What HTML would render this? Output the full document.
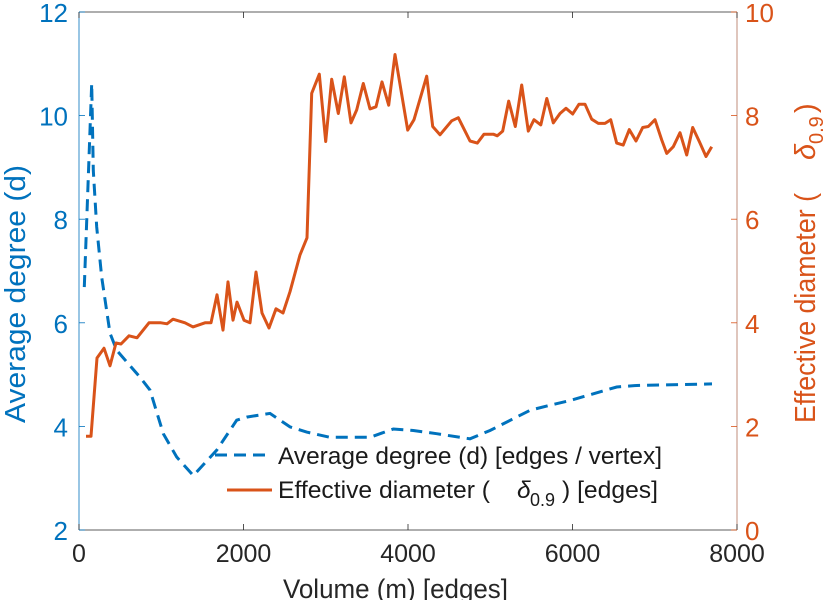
<!DOCTYPE html>
<html><head><meta charset="utf-8"><style>
html,body{margin:0;padding:0;background:#fff;}
svg{display:block;font-family:"Liberation Sans",sans-serif;}
</style></head><body>
<svg id="chart" width="829" height="600" viewBox="0 0 829 600" xmlns="http://www.w3.org/2000/svg">
<g id="axes"></g>
<g id="series"></g>
<g id="labels"></g>
</svg>
<script>
const xTicks=[0,2000,4000,6000,8000];
const leftTicks=[2,4,6,8,10,12];
const rightTicks=[0,2,4,6,8,10];
const degreeM=[64,154,174,215,276,377,458,742,863,1025,1188,1390,1674,1917,2039,2322,2565,2768,3052,3538,3821,4064,4349,4754,4997,5483,5726,5970,6253,6537,6781,7696];
const degreeVals=[6.69,10.62,8.94,7.85,6.88,5.8,5.47,4.95,4.7,3.86,3.41,3.05,3.54,4.12,4.18,4.25,3.99,3.89,3.79,3.79,3.95,3.92,3.86,3.76,3.92,4.31,4.41,4.5,4.63,4.76,4.79,4.82];
const diamM=[85,146,219,304,377,450,511,608,705,851,997,1070,1143,1289,1386,1532,1605,1678,1751,1812,1872,1921,2006,2079,2152,2225,2310,2395,2480,2565,2687,2772,2829,2922,2999,3072,3153,3226,3307,3376,3456,3538,3611,3684,3765,3842,3996,4073,4227,4300,4389,4531,4611,4754,4842,4924,5037,5086,5151,5224,5304,5382,5463,5532,5614,5687,5767,5848,5921,6002,6079,6152,6233,6314,6395,6464,6537,6617,6690,6772,6853,6921,7003,7084,7145,7225,7307,7389,7462,7542,7623,7693];
const diamVals=[1.81,1.81,3.32,3.51,3.17,3.61,3.59,3.75,3.71,4.0,4.0,3.98,4.07,4.0,3.92,4.0,4.0,4.54,3.86,4.79,4.05,4.4,4.05,4.0,4.98,4.19,3.9,4.27,4.19,4.6,5.31,5.64,8.43,8.8,7.5,8.7,8.04,8.75,7.86,8.11,8.62,8.13,8.17,8.65,8.2,9.18,7.72,7.92,8.76,7.79,7.63,7.9,7.96,7.51,7.47,7.64,7.64,7.61,7.7,8.28,7.79,8.59,7.7,7.92,7.82,8.33,7.86,8.04,8.14,8.03,8.22,8.22,7.93,7.85,7.85,7.92,7.47,7.43,7.73,7.51,7.77,7.79,7.92,7.53,7.27,7.4,7.67,7.24,7.77,7.5,7.21,7.4];

const X0=79,X1=737,YT=12,YB=530;
const xs=m=>X0+(m-0)/8000*(X1-X0);
const yl=v=>YB-(v-2)/10*(YB-YT);
const yr=v=>YB-(v-0)/10*(YB-YT);
const NS='http://www.w3.org/2000/svg';
function mk(tag,attrs,parent,text){const e=document.createElementNS(NS,tag);for(const k in attrs)e.setAttribute(k,attrs[k]);if(text!==undefined)e.textContent=text;parent.appendChild(e);return e;}
const axes=document.getElementById('axes'),series=document.getElementById('series'),labels=document.getElementById('labels');
const BLUE='#0072BD',ORANGE='#D95319';

let l=mk('line',{x1:X0,y1:YT,x2:X1,y2:YT,stroke:'#262626','stroke-width':0.8},axes);


l=mk('line',{x1:X0,y1:YB,x2:X1,y2:YB,stroke:'#262626','stroke-width':0.8},axes);


l=mk('line',{x1:X0,y1:YT,x2:X0,y2:YB,stroke:BLUE,'stroke-width':0.8},axes);


l=mk('line',{x1:X1,y1:YT,x2:X1,y2:YB,stroke:'#b0705a','stroke-width':0.8},axes);



xTicks.forEach(t=>{const x=xs(t);
 mk('line',{x1:x,y1:YB,x2:x,y2:YB-6,stroke:'#262626','stroke-width':0.8},axes);
 mk('line',{x1:x,y1:YT,x2:x,y2:YT+6,stroke:'#262626','stroke-width':0.8},axes);
 const tx=mk('text',{x:x,y:YB+32,'text-anchor':'middle','font-size':25,fill:'#262626'},labels,String(t));
 
 
});
leftTicks.forEach(t=>{const y=yl(t);
 mk('line',{x1:X0,y1:y,x2:X0+6,y2:y,stroke:BLUE,'stroke-width':0.8},axes);
 const tx=mk('text',{x:X0-11,y:y+10,'text-anchor':'end','font-size':26,fill:BLUE},labels,String(t));
 
 
});
rightTicks.forEach(t=>{const y=yr(t);
 mk('line',{x1:X1,y1:y,x2:X1-6,y2:y,stroke:ORANGE,'stroke-width':0.8},axes);
 const tx=mk('text',{x:X1+8,y:y+10,'text-anchor':'start','font-size':26,fill:ORANGE},labels,String(t));
 
 
});

const dPts=degreeM.map((m,i)=>xs(m).toFixed(1)+','+yl(degreeVals[i]).toFixed(1)).join(' ');
const p1=mk('polyline',{points:dPts,fill:'none',stroke:BLUE,'stroke-width':3,'stroke-dasharray':'12,7'},series);


const oPts=diamM.map((m,i)=>xs(m).toFixed(1)+','+yr(diamVals[i]).toFixed(1)).join(' ');
const p2=mk('polyline',{points:oPts,fill:'none',stroke:ORANGE,'stroke-width':3,'stroke-linejoin':'round'},series);


</script>
<svg style="position:absolute;left:0;top:0" width="829" height="600">
<g font-family="Liberation Sans, sans-serif" font-size="24.5" fill="#1a1a1a">
 <line x1="215" y1="455" x2="270" y2="455" stroke="#0072BD" stroke-width="3" stroke-dasharray="12,7"/>
 <text x="278" y="464" textLength="384" lengthAdjust="spacingAndGlyphs">Average degree (d) [edges / vertex]</text>
 <line x1="227" y1="490" x2="272" y2="490" stroke="#D95319" stroke-width="3"/>
 <text x="278" y="498" textLength="212" lengthAdjust="spacingAndGlyphs">Effective diameter (</text>
 <text x="517" y="498" font-style="italic">δ</text>
 <text x="530" y="506" font-size="18">0.9</text>
 <text x="562" y="498" textLength="96" lengthAdjust="spacingAndGlyphs">) [edges]</text>
</g>
<text x="283" y="598" textLength="225" lengthAdjust="spacingAndGlyphs" font-family="Liberation Sans, sans-serif" font-size="27" fill="#262626">Volume (m) [edges]</text>
<text transform="translate(25,423) rotate(-90)" textLength="258" lengthAdjust="spacingAndGlyphs" font-family="Liberation Sans, sans-serif" font-size="29" fill="#0072BD">Average degree (d)</text>
<g transform="translate(815,423) rotate(-90)" font-family="Liberation Sans, sans-serif" font-size="29" fill="#D95319">
 <text x="0" y="0" textLength="230" lengthAdjust="spacingAndGlyphs">Effective diameter (</text>
 <text x="263" y="0" font-style="italic">δ</text>
 <text x="279" y="8" font-size="20">0.9</text>
 <text x="310" y="0">)</text>
</g>
</svg>
</body></html>
